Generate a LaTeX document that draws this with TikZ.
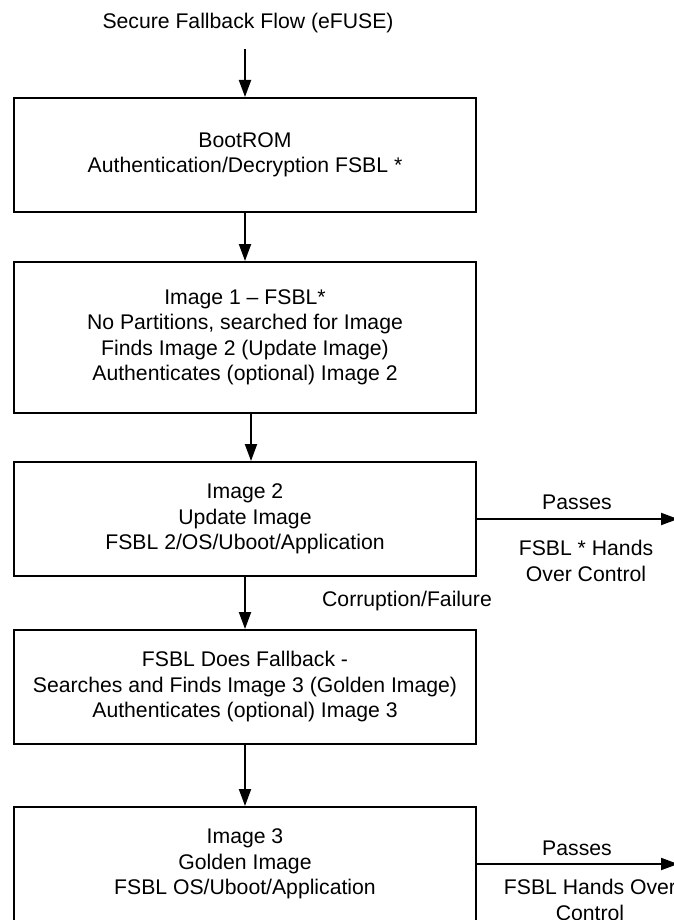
\documentclass[tikz,border=0pt]{standalone}
\usepackage{fontspec}
\setmainfont{Liberation Sans}
\usetikzlibrary{arrows.meta}
\begin{document}
\begin{tikzpicture}[x=1pt,y=-1pt,
  every node/.style={font=\fontsize{21.2}{25.5}\selectfont, align=center, inner sep=0pt},
  flowbox/.style={draw, line width=2pt, minimum width=462pt, inner sep=0pt},
  arr/.style={line width=2pt, -{Triangle[length=17pt,width=12pt]}}]
\useasboundingbox (0,0) rectangle (673,920);
\node (title) at (248,23) {Secure Fallback Flow (eFUSE)};
\coordinate (tstart) at (245,49);
\node[flowbox, minimum height=114pt] (b1) at (245,155) {BootROM\\Authentication/Decryption FSBL *};
\node[flowbox, minimum height=151pt] (b2) at (245,337.5) {Image 1 -- FSBL*\\No Partitions, searched for Image\\Finds Image 2 (Update Image)\\Authenticates (optional) Image 2};
\node[flowbox, minimum height=114pt] (b3) at (245,519) {Image 2\\Update Image\\FSBL 2/OS/Uboot/Application};
\node[flowbox, minimum height=114pt] (b4) at (245,687) {FSBL Does Fallback -\\Searches and Finds Image 3 (Golden Image)\\Authenticates (optional) Image 3};
\node[flowbox, minimum height=114pt] (b5) at (245,864) {Image 3\\Golden Image\\FSBL OS/Uboot/Application};
\coordinate (e3) at (678,519);
\coordinate (e5) at (678,864);
\draw[arr] (tstart) -- (b1.north);
\draw[arr] (b1.south) -- (b2.north);
\draw[arr] ([xshift=6pt]b2.south) -- ([xshift=6pt]b3.north);
\draw[arr] (b3.south) -- (b4.north);
\draw[arr] (b4.south) -- (b5.north);
\draw[arr] (b3.east) -- (e3);
\draw[arr] (b5.east) -- (e5);
\node (p1) at (577,502) {Passes};
\node (h1) at (586,561) {FSBL * Hands\\Over Control};
\node (cf) at (407,601) {Corruption/Failure};
\node (p2) at (577,848) {Passes};
\node (h2) at (590,900) {FSBL Hands Over\\Control};
\end{tikzpicture}
\end{document}
